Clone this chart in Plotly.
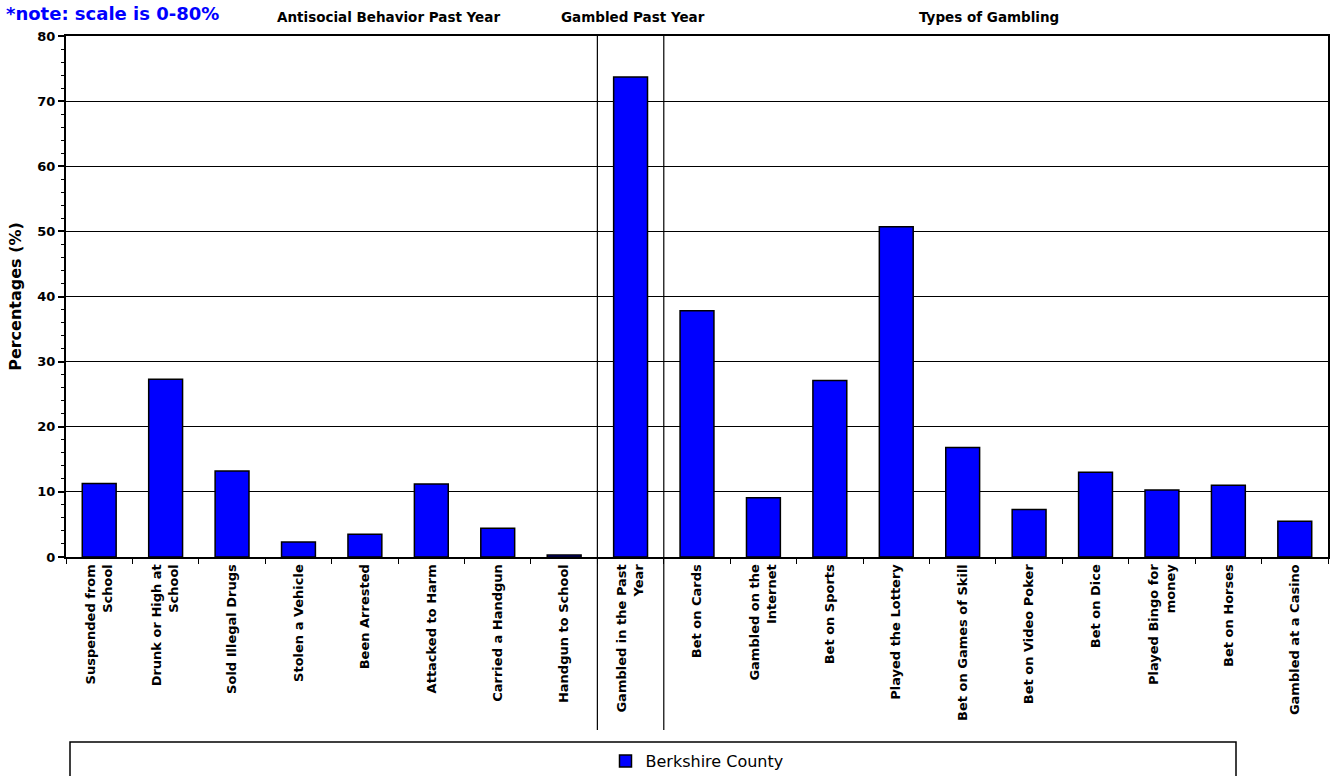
import plotly.graph_objects as go

categories = [
    "Suspended from<br>School", "Drunk or High at<br>School", "Sold Illegal Drugs",
    "Stolen a Vehicle", "Been Arrested", "Attacked to Harm", "Carried a Handgun",
    "Handgun to School", "Gambled in the Past<br>Year", "Bet on Cards",
    "Gambled on the<br>Internet", "Bet on Sports", "Played the Lottery",
    "Bet on Games of Skill", "Bet on Video Poker", "Bet on Dice",
    "Played Bingo for<br>money", "Bet on Horses", "Gambled at a Casino",
]
values = [11.3, 27.3, 13.2, 2.3, 3.5, 11.2, 4.4, 0.3, 73.7, 37.8, 9.1, 27.1,
          50.7, 16.8, 7.3, 13.0, 10.3, 11.0, 5.5]
series_name = "Berkshire County"
group_titles = ["Antisocial Behavior Past Year", "Gambled Past Year", "Types of Gambling"]
y_ticks = [0, 10, 20, 30, 40, 50, 60, 70, 80]

FONT = "DejaVu Sans, Verdana, sans-serif"
W, H = 1330, 776
ML, MR, MT, MB = 66, 2, 36, 219
PW = W - ML - MR
PH = H - MT - MB

def px_x(p):
    return (p - ML) / PW

def px_y(p):
    return (H - MB - p) / PH

fig = go.Figure()
fig.add_trace(go.Bar(
    x=categories, y=values, name=series_name,
    marker=dict(color="#0000FF", line=dict(color="black", width=1.5)),
    showlegend=True,
))

fig.update_layout(
    width=W, height=H,
    margin=dict(l=ML, r=MR, t=MT, b=MB, autoexpand=False),
    paper_bgcolor="white", plot_bgcolor="white",
    bargap=0.49,
    font=dict(family=FONT, color="black"),
    showlegend=True,
    legend=dict(orientation="h", x=0.5, xanchor="center", y=px_y(761), yanchor="middle",
                font=dict(family=FONT, size=16, color="black"),
                bgcolor="rgba(0,0,0,0)", itemwidth=30),
    xaxis=dict(
        type="category", tickangle=-90, tickson="boundaries", ticks="outside",
        ticklen=5, tickcolor="black", tickwidth=1, automargin=False,
        showline=True, linecolor="black", linewidth=2, mirror=True,
        showgrid=False,
        tickfont=dict(family=FONT, size=13, color="black", weight="bold"),
    ),
    yaxis=dict(
        range=[0, 80], tickvals=y_ticks, ticks="outside", ticklen=6,
        tickcolor="black", tickwidth=1.5, automargin=False,
        minor=dict(dtick=2, ticks="outside", ticklen=3, tickcolor="black", tickwidth=1, showgrid=False),
        showline=True, linecolor="black", linewidth=2, mirror=True,
        showgrid=True, gridcolor="black", gridwidth=1,
        zeroline=False,
        tickfont=dict(family=FONT, size=13, color="black", weight="bold"),
        title=dict(text="Percentages (%)", standoff=12,
                   font=dict(family=FONT, size=16, color="black", weight="bold")),
    ),
)

# group divider lines
for xb in [7.5, 8.5]:
    fig.add_shape(type="line", xref="x", yref="paper", x0=xb, x1=xb,
                  y0=px_y(730), y1=1, line=dict(color="black", width=1.2))

# legend box
fig.add_shape(type="rect", xref="paper", yref="paper",
              x0=px_x(70), x1=px_x(1236), y0=px_y(742), y1=px_y(800),
              line=dict(color="black", width=1.5), fillcolor="rgba(0,0,0,0)")

# group titles
for t, cx in zip(group_titles, [388, 633, 989]):
    fig.add_annotation(text=f"<b>{t}</b>", xref="paper", yref="paper",
                       x=px_x(cx), y=px_y(17), xanchor="center", yanchor="middle",
                       showarrow=False, font=dict(family=FONT, size=13.5, color="black"))

fig.add_annotation(text="<b>*note: scale is 0-80%</b>", xref="paper", yref="paper",
                   x=px_x(4), y=px_y(14), xanchor="left", yanchor="middle",
                   showarrow=False, font=dict(family=FONT, size=18, color="#0000FF"))

fig.write_html("out.html")
